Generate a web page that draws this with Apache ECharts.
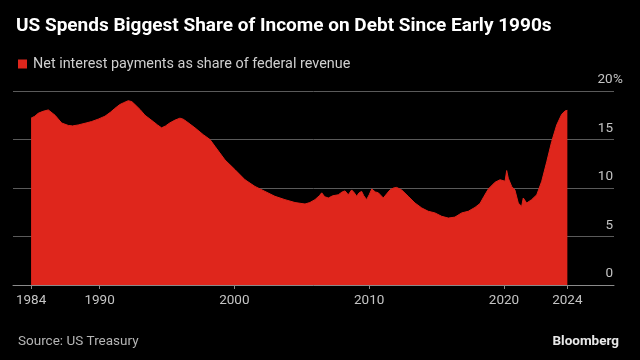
<!DOCTYPE html>
<html>
<head>
<meta charset="utf-8">
<script src="https://cdn.jsdelivr.net/npm/echarts@6/dist/echarts.min.js"></script>
<style>
html,body{margin:0;padding:0;background:#000;}
#chart{width:640px;height:360px;}
</style>
</head>
<body>
<div id="chart"></div>
<script>
// Fractional years (x) and net interest as % of federal revenue (y)
const years = [1984.92,1985.2,1985.45,1985.8,1986.2,1986.7,1987.19,1987.68,1988.0,1988.42,1989.0,1989.41,1989.9,1990.4,1990.8,1991.13,1991.5,1991.8,1992.13,1992.4,1992.63,1993.0,1993.37,1993.98,1994.3,1994.6,1994.9,1995.2,1995.6,1995.96,1996.2,1996.46,1997.08,1997.69,1998.19,1998.56,1999.3,2000.04,2000.79,2001.53,2002.27,2003.01,2003.75,2004.5,2005.24,2005.6,2005.98,2006.3,2006.48,2006.7,2006.97,2007.3,2007.71,2008.0,2008.21,2008.45,2008.7,2008.9,2009.07,2009.25,2009.44,2009.6,2009.81,2010.0,2010.19,2010.45,2010.68,2011.05,2011.3,2011.54,2011.8,2012.04,2012.41,2012.9,2013.4,2013.9,2014.38,2014.88,2015.38,2015.87,2016.36,2016.86,2017.35,2017.85,2018.22,2018.5,2018.84,2019.34,2019.71,2020.08,2020.2,2020.32,2020.57,2020.81,2021.06,2021.31,2021.43,2021.68,2022.05,2022.43,2022.8,2023.17,2023.54,2023.91,2024.28,2024.53,2024.7];
const share = [17.2,17.4,17.7,17.9,18.05,17.5,16.7,16.45,16.4,16.5,16.7,16.85,17.1,17.4,17.8,18.2,18.6,18.8,19.0,18.9,18.6,18.1,17.5,16.85,16.5,16.2,16.4,16.7,17.0,17.2,17.1,16.85,16.2,15.5,15.0,14.3,12.9,11.9,10.85,10.16,9.65,9.14,8.8,8.5,8.35,8.5,8.8,9.2,9.5,9.1,8.97,9.2,9.3,9.6,9.7,9.3,9.8,9.5,9.14,9.5,9.65,9.2,8.8,9.3,9.9,9.6,9.5,8.97,9.4,9.8,10.0,10.06,9.8,9.14,8.45,7.94,7.6,7.43,7.08,6.9,7.0,7.43,7.6,8.0,8.4,9.1,9.9,10.6,10.85,10.7,11.8,11.0,10.16,9.8,8.45,8.1,8.97,8.45,8.8,9.3,10.7,12.7,14.8,16.5,17.6,17.95,18.0];
const xTickValues = [1984.92,1990,2000,2010,2020,2024.7];
const xTickLabels = ['1984','1990','2000','2010','2020','2024'];
const yTicks = [0,5,10,15,20];

const chart = echarts.init(document.getElementById('chart'));
const red = '#df261c';
chart.setOption({
  backgroundColor:'#000',
  animation:false,
  title:[
    {text:'US Spends Biggest Share of Income on Debt Since Early 1990s',left:11,top:12,
     textStyle:{color:'#fff',fontSize:19,fontWeight:'bold',fontFamily:'Roboto'}},
    {text:'Source: US Treasury',left:13,top:330,textStyle:{color:'#b5b5b5',fontSize:13.5,fontWeight:'normal',fontFamily:'Roboto'}},
    {text:'Bloomberg',right:16,top:330,textStyle:{color:'#e8e8e8',fontSize:13.5,fontWeight:'bold',fontFamily:'Roboto'}}
  ],
  legend:{left:13,top:52,icon:'rect',itemWidth:9,itemHeight:9,
    textStyle:{color:'#cfcfcf',fontSize:14.4,fontFamily:'Roboto',padding:[0,0,0,1]},
    data:['Net interest payments as share of federal revenue']},
  grid:{left:13,right:26,top:91,bottom:75,containLabel:false},
  xAxis:{type:'value',min:1983.58,max:2028.16,
    axisLine:{show:true,lineStyle:{color:'#8a8a8a',width:1}},
    axisTick:{show:true,customValues:xTickValues,length:4,lineStyle:{color:'#8a8a8a'}},
    axisLabel:{customValues:xTickValues,color:'#c4c4c4',fontSize:13.5,fontFamily:'Roboto',margin:9,
      formatter:function(v){const i=xTickValues.indexOf(v);return i>=0?xTickLabels[i]:'';}},
    splitLine:{show:false}},
  yAxis:{type:'value',position:'right',min:0,max:20,interval:5,
    axisLine:{show:false},axisTick:{show:false},
    splitLine:{lineStyle:{color:'#5a5a5a',width:1}},
    axisLabel:{margin:-17,align:'left',verticalAlign:'bottom',padding:[0,0,4,0],color:'#c4c4c4',fontSize:13.5,fontFamily:'Roboto',
      formatter:function(v){return v===20?'{n|20}%':'{n|'+v+'}';},
      rich:{n:{width:16,align:'right',color:'#c4c4c4',fontSize:13.5,fontFamily:'Roboto'}}}},
  series:[{name:'Net interest payments as share of federal revenue',type:'line',
    data:years.map((y,i)=>[y,share[i]]),showSymbol:false,symbol:'none',
    lineStyle:{color:red,width:1},itemStyle:{color:red},
    areaStyle:{color:red,opacity:1}}]
});
</script>
</body>
</html>
